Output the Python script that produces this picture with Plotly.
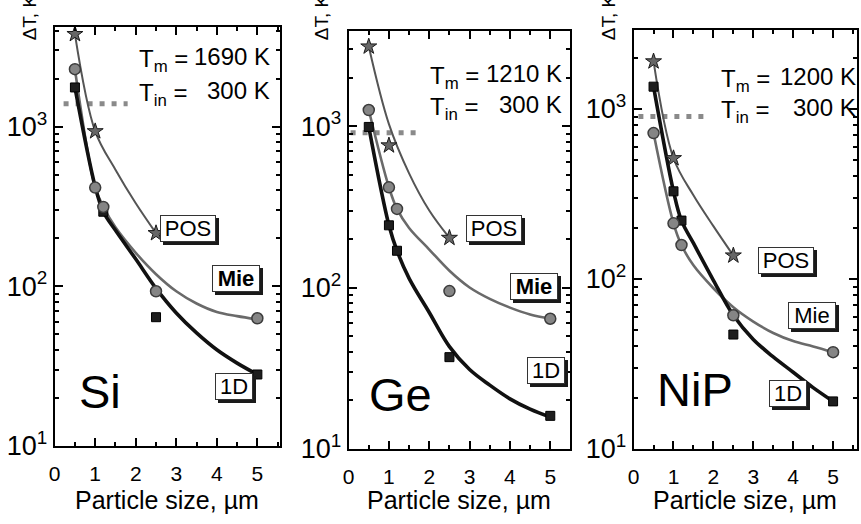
import plotly.graph_objects as go

# ---------------- data ----------------
materials = ["Si", "Ge", "NiP"]
T_melt = [1690, 1210, 1200]          # K
T_init = [300, 300, 300]             # K

# POS model (stars)
pos_size = [0.5, 1.0, 2.5]
pos_dT = {
    "Si": [3800, 935, 215],
    "Ge": [3120, 760, 203],
    "NiP": [1900, 512, 137],
}
# Mie model (circles)
mie_size = [0.5, 1.0, 1.2, 2.5, 5.0]
mie_dT = {
    "Si": [2290, 415, 314, 93, 63],
    "Ge": [1260, 418, 307, 95, 64],
    "NiP": [720, 212, 158, 61, 37],
}
# 1D model (squares)
d1_size = {
    "Si": [0.5, 1.2, 2.5, 5.0],
    "Ge": [0.5, 1.0, 1.2, 2.5, 5.0],
    "NiP": [0.5, 1.0, 1.2, 2.5, 5.0],
}
d1_dT = {
    "Si": [1760, 293, 64, 28],
    "Ge": [990, 243, 169, 37, 16],
    "NiP": [1350, 327, 220, 47, 19],
}

# smooth guide curves through the model results
pos_fit_size = [0.5, 1.0, 1.5, 2.0, 2.5]
pos_fit = {
    "Si": [3800, 935, 537, 331, 215],
    "Ge": [3120, 1030, 510, 300, 203],
    "NiP": [1900, 512, 310, 204, 137],
}
mie_fit_size = [0.5, 1.0, 1.2, 1.5, 2.0, 2.5, 3.0, 3.5, 4.0, 4.5, 5.0]
mie_fit = {
    "Si": [2290, 415, 316, 234, 162, 119, 93, 78, 69, 65, 62],
    "Ge": [1260, 418, 307, 234, 172, 127, 100, 85, 75, 68, 64],
    "NiP": [720, 212, 158, 120, 88, 68, 56, 48, 43, 40, 37],
}
d1_fit_size = [0.5, 1.0, 1.2, 1.5, 2.0, 2.5, 3.0, 3.5, 4.0, 4.5, 5.0]
d1_fit = {
    "Si": [1760, 420, 293, 224, 148, 97, 68, 51, 40, 33, 28],
    "Ge": [990, 243, 169, 114, 70, 43, 31, 24.8, 20.4, 17.6, 15.7],
    "NiP": [1350, 327, 220, 162, 98, 61, 44, 34.7, 28.2, 22.9, 19],
}
# extent of the melting-threshold marker line (particle size, um)
threshold_x = {
    "Si": [0.22, 1.8],
    "Ge": [0.05, 1.8],
    "NiP": [0.12, 1.87],
}

x_ticks = [0, 1, 2, 3, 4, 5]
x_minor_ticks = [0.5, 1.5, 2.5, 3.5, 4.5, 5.5]
y_ticks = [10, 100, 1000]
y_ticktext = ["10<sup>1</sup>", "10<sup>2</sup>", "10<sup>3</sup>"]
y_minor_ticks = [20, 30, 40, 50, 60, 70, 80, 90,
                 200, 300, 400, 500, 600, 700, 800, 900,
                 2000, 3000, 4000]

# ---------------- layout geometry (pixels) ----------------
W, H = 861, 524
FONT = "Liberation Sans, Arial, Helvetica, sans-serif"

panels = [  # left, right, top, bottom of each plot frame
    (49, 276, 28, 459),
    (345, 568, 32, 462),
    (632, 857, 31, 462),
]
x_max = [5.56, 5.49, 5.6]
y_top = [3.623, 3.59, 3.463]
xlabel_drop = 14   # extra gap between frame and x tick labels (px)


def fx(p):
    return p / W


def fy(p):
    return 1 - p / H


fig = go.Figure()

for i, mat in enumerate(materials):
    xa = "x" if i == 0 else f"x{i + 1}"
    ya = "y" if i == 0 else f"y{i + 1}"
    dT_melt = T_melt[i] - T_init[i]

    # melting threshold
    fig.add_trace(go.Scatter(
        x=threshold_x[mat], y=[dT_melt, dT_melt], mode="lines",
        line=dict(color="#8a8a8a", width=5, dash="5px,7px"),
        xaxis=xa, yaxis=ya, showlegend=False, hoverinfo="skip"))

    # guide curves
    fig.add_trace(go.Scatter(
        x=pos_fit_size, y=pos_fit[mat], mode="lines",
        line=dict(color="#555555", width=2, shape="spline", smoothing=1),
        xaxis=xa, yaxis=ya, showlegend=False))
    fig.add_trace(go.Scatter(
        x=mie_fit_size, y=mie_fit[mat], mode="lines",
        line=dict(color="#6a6a6a", width=2.6, shape="spline", smoothing=1),
        xaxis=xa, yaxis=ya, showlegend=False))
    fig.add_trace(go.Scatter(
        x=d1_fit_size, y=d1_fit[mat], mode="lines",
        line=dict(color="#111111", width=3.6, shape="spline", smoothing=1),
        xaxis=xa, yaxis=ya, showlegend=False))

    # model points
    fig.add_trace(go.Scatter(
        x=d1_size[mat], y=d1_dT[mat], mode="markers",
        marker=dict(symbol="square", size=9, color="#1e1e1e",
                    line=dict(color="#000000", width=1)),
        xaxis=xa, yaxis=ya, showlegend=False))
    fig.add_trace(go.Scatter(
        x=mie_size, y=mie_dT[mat], mode="markers",
        marker=dict(symbol="circle", size=11, color="#858585",
                    line=dict(color="#3c3c3c", width=1.5)),
        xaxis=xa, yaxis=ya, showlegend=False))
    fig.add_trace(go.Scatter(
        x=pos_size, y=pos_dT[mat], mode="markers",
        marker=dict(symbol="star", size=12, color="#666666",
                    line=dict(color="#1a1a1a", width=1)),
        xaxis=xa, yaxis=ya, showlegend=False))

    # empty traces that register the frame (tick-only) axes
    fig.add_trace(go.Scatter(x=[None], y=[None], xaxis=f"x{i + 4}",
                             yaxis=ya, showlegend=False, hoverinfo="skip"))
    fig.add_trace(go.Scatter(x=[None], y=[None], xaxis=xa,
                             yaxis=f"y{i + 4}", showlegend=False,
                             hoverinfo="skip"))

# ---------------- axes ----------------
tick_common = dict(ticks="inside", tickwidth=2, tickcolor="black",
                   showline=True, linewidth=2, linecolor="black",
                   mirror="ticks", showgrid=False, zeroline=False)
for i in range(3):
    L, R, T, B = panels[i]
    sx = "" if i == 0 else str(i + 1)
    fig.update_layout({
        # axis carrying the particle-size labels
        f"xaxis{sx}": dict(
            domain=[fx(L), fx(R)], range=[0, x_max[i]],
            anchor="free", position=fy(B + xlabel_drop),
            showline=False, ticks="", showgrid=False, zeroline=False,
            tickmode="array", tickvals=x_ticks,
            tickfont=dict(family=FONT, size=21, color="black"),
        ),
        # frame axis: top/bottom lines with inward ticks
        f"xaxis{i + 4}": dict(
            overlaying=f"x{sx}", side="top", anchor=f"y{sx}",
            domain=[fx(L), fx(R)], range=[0, x_max[i]],
            showticklabels=False, tickmode="array", tickvals=x_ticks,
            ticklen=8,
            minor=dict(tickmode="array", tickvals=x_minor_ticks,
                       ticks="inside", ticklen=4, tickwidth=1.5,
                       tickcolor="black", showgrid=False),
            **tick_common,
        ),
        f"yaxis{sx}": dict(
            domain=[fy(B), fy(T)], type="log", range=[1, y_top[i]],
            anchor=f"x{sx}", tickmode="array", tickvals=y_ticks,
            ticktext=y_ticktext, ticklen=8,
            tickfont=dict(family=FONT, size=27, color="black"),
            minor=dict(tickmode="array", tickvals=y_minor_ticks,
                       ticks="inside", ticklen=4, tickwidth=1.5,
                       tickcolor="black", showgrid=False),
            **tick_common,
        ),
        # frame axis: right/left lines with inward ticks
        f"yaxis{i + 4}": dict(
            overlaying=f"y{sx}", side="right", anchor=f"x{sx}",
            domain=[fy(B), fy(T)], type="log", range=[1, y_top[i]],
            showticklabels=False, tickmode="array", tickvals=y_ticks,
            ticklen=8,
            minor=dict(tickmode="array", tickvals=y_minor_ticks,
                       ticks="inside", ticklen=4, tickwidth=1.5,
                       tickcolor="black", showgrid=False),
            **tick_common,
        ),
    })

# ---------------- annotations ----------------
ann = []

# y-axis titles and x-axis titles
ytitle_x = [24, 318, 607]
for i in range(3):
    L, R, T, B = panels[i]
    ann.append(dict(text="\u0394T, K", xref="paper", yref="paper",
                    x=fx(ytitle_x[i]), y=fy(18), textangle=-90,
                    showarrow=False, xanchor="center", yanchor="middle",
                    font=dict(family=FONT, size=19, color="black")))
    ann.append(dict(text="Particle size, \u00b5m", xref="paper", yref="paper",
                    x=fx((L + R) / 2), y=fy(515), showarrow=False,
                    xanchor="center", yanchor="middle",
                    font=dict(family=FONT, size=25, color="black")))

# melting / initial temperatures
t_left = [132, 425, 718]
t_right = [268, 562, 858]
t_line1 = [58, 76, 79]
t_line2 = [93, 108, 111]
for i in range(3):
    f = dict(family=FONT, size=24, color="black")
    ann.append(dict(text="T<sub>m</sub> =", xref="paper", yref="paper",
                    x=fx(t_left[i]), y=fy(t_line1[i] + 4), xanchor="left",
                    yanchor="middle", showarrow=False, font=f))
    ann.append(dict(text=f"{T_melt[i]} K", xref="paper", yref="paper",
                    x=fx(t_right[i]), y=fy(t_line1[i]), xanchor="right",
                    yanchor="middle", showarrow=False, font=f))
    ann.append(dict(text="T<sub>in</sub> =", xref="paper", yref="paper",
                    x=fx(t_left[i]), y=fy(t_line2[i] + 4), xanchor="left",
                    yanchor="middle", showarrow=False, font=f))
    ann.append(dict(text=f"{T_init[i]} K", xref="paper", yref="paper",
                    x=fx(t_right[i]), y=fy(t_line2[i]), xanchor="right",
                    yanchor="middle", showarrow=False, font=f))

# material names
name_pos = [(1.13, 1.338), (1.29, 1.334), (1.53, 1.351)]
for i, mat in enumerate(materials):
    sx = "" if i == 0 else str(i + 1)
    ann.append(dict(text=mat, xref=f"x{sx}", yref=f"y{sx}",
                    x=name_pos[i][0], y=name_pos[i][1], showarrow=False,
                    xanchor="center", yanchor="middle",
                    font=dict(family=FONT, size=47, color="black")))

# boxed model labels with drop shadow
box_pos = [
    {"POS": (3.30, 2.363), "Mie": (4.47, 2.05), "1D": (4.42, 1.374)},
    {"POS": (3.60, 2.364), "Mie": (4.60, 2.009), "1D": (4.89, 1.485)},
    {"POS": (3.83, 2.106), "Mie": (4.47, 1.786), "1D": (3.88, 1.326)},
]
box_w = {"POS": 52, "Mie": 44, "1D": 34}
bold_mie = [True, True, False]
for i in range(3):
    sx = "" if i == 0 else str(i + 1)
    for lab, (bx, by) in box_pos[i].items():
        txt = f"<b>{lab}</b>" if (lab == "Mie" and bold_mie[i]) else lab
        base = dict(text=txt, xref=f"x{sx}", yref=f"y{sx}", x=bx, y=by,
                    showarrow=False, xanchor="center", yanchor="middle",
                    width=box_w[lab], height=23, borderpad=1, borderwidth=1)
        shadow = dict(base, xshift=3, yshift=-3, bgcolor="#1a1a1a",
                      bordercolor="#1a1a1a",
                      font=dict(family=FONT, size=22, color="#1a1a1a"))
        front = dict(base, bgcolor="white", bordercolor="#333333",
                     font=dict(family=FONT, size=22, color="black"))
        ann.append(shadow)
        ann.append(front)

fig.update_layout(
    width=W, height=H,
    margin=dict(l=0, r=0, t=0, b=0),
    paper_bgcolor="white", plot_bgcolor="white",
    showlegend=False,
    annotations=ann,
)

fig.write_html("out.html")
